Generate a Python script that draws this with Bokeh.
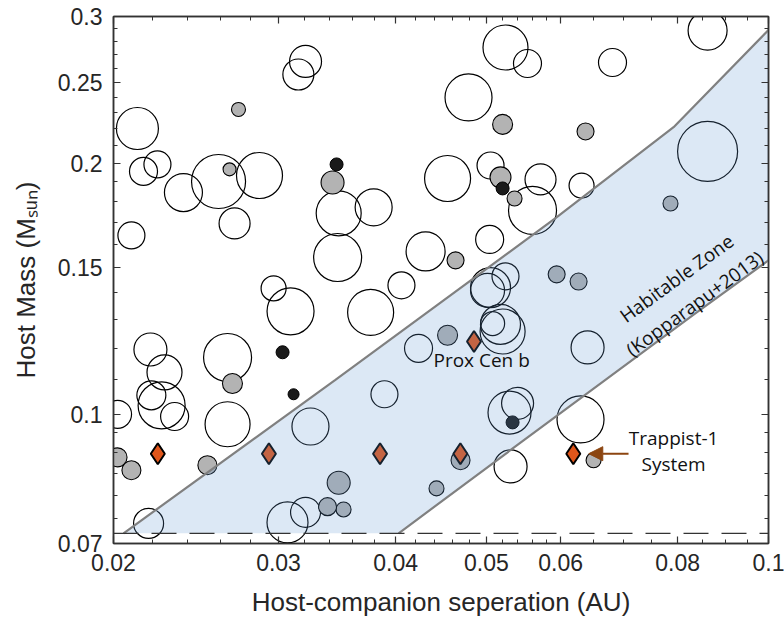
import math
from bokeh.plotting import figure
from bokeh.models import Range1d, FixedTicker, LogAxis, Label, Span, Arrow, NormalHead
from bokeh.embed import file_html
from bokeh.resources import INLINE

# ---------------- data ----------------
# open circles: host-companion separation (AU), host mass (Msun), marker size (px)
open_sep = [0.03206, 0.0315, 0.02121, 0.02228, 0.02153, 0.02375, 0.02589, 0.02863, 0.02693, 0.02090,
            0.03478, 0.03469, 0.0379, 0.02964, 0.0309, 0.0524, 0.05531, 0.04785, 0.05051, 0.04545,
            0.05711, 0.0560, 0.0504, 0.04306, 0.04058, 0.03762, 0.0861, 0.06816, 0.0861, 0.06317,
            0.0219, 0.02267, 0.02195, 0.02251, 0.02324, 0.0202, 0.02647, 0.02647, 0.03245, 0.0218,
            0.03067, 0.03206, 0.04232, 0.03892, 0.05292, 0.05398, 0.05306, 0.06411, 0.06301, 0.05051,
            0.05014, 0.0524, 0.05077, 0.05176, 0.05203]
open_mass = [0.2650, 0.2556, 0.2202, 0.1994, 0.1956, 0.1845, 0.1902, 0.1934, 0.1694, 0.1639,
             0.1742, 0.1542, 0.1771, 0.1416, 0.1329, 0.2754, 0.2635, 0.2399, 0.1988, 0.1918,
             0.1913, 0.1756, 0.1621, 0.1568, 0.1428, 0.1325, 0.2886, 0.2642, 0.2067, 0.1881,
             0.1196, 0.1123, 0.1054, 0.1025, 0.0994, 0.1000, 0.1170, 0.0973, 0.0967, 0.0740,
             0.0742, 0.0763, 0.1200, 0.1057, 0.1005, 0.1031, 0.0866, 0.1203, 0.0986, 0.1419,
             0.1408, 0.1464, 0.1285, 0.1282, 0.1257]
open_size = [32, 31, 42, 27, 28, 38, 54, 46, 31, 27,
             45, 48, 37, 25, 47, 45, 28, 47, 27, 46,
             31, 48, 28, 39, 27, 46, 39, 28, 60, 25,
             33, 35, 29, 47, 28, 28, 48, 45, 37, 30,
             41, 30, 28, 27, 43, 32, 33, 33, 47, 40,
             34, 27, 24, 40, 45]

# grey filled circles
gray_sep = [0.02719, 0.0266, 0.03426, 0.05203, 0.05176, 0.05358, 0.04635, 0.06379, 0.02679, 0.0202,
            0.0209, 0.02519, 0.06506, 0.0786, 0.05942, 0.06271, 0.04545, 0.04692, 0.04423, 0.03478,
            0.0352, 0.03384]
gray_mass = [0.2321, 0.1967, 0.1897, 0.2227, 0.1924, 0.1815, 0.1530, 0.2184, 0.1089, 0.0888,
             0.0857, 0.0869, 0.0881, 0.1790, 0.1472, 0.1443, 0.1244, 0.0881, 0.0815, 0.0828,
             0.0769, 0.0775]
gray_size = [14, 13, 23, 20, 21, 15, 17, 17, 20, 19,
             19, 19, 15, 15, 17, 17, 20, 19, 15, 23,
             15, 18]

# black filled circles
black_sep = [0.0346, 0.05203, 0.0303, 0.03113, 0.05332]
black_mass = [0.1994, 0.1866, 0.1187, 0.1057, 0.0978]
black_size = [13, 13, 13, 11, 13]

# planets (diamonds): Trappist-1 d, e, f, g, h and Proxima Cen b
planet_sep = [0.0223, 0.0293, 0.0385, 0.0469, 0.0619, 0.0485]
planet_mass = [0.0897, 0.0897, 0.0897, 0.0897, 0.0897, 0.1223]

# habitable zone edges (Kopparapu+2013)
hz_inner_sep = [0.0205, 0.0345, 0.0593, 0.0792, 0.1]
hz_inner_mass = [0.072, 0.110, 0.172, 0.221, 0.289]
hz_outer_sep = [0.0403, 0.0585, 0.0832, 0.1]
hz_outer_mass = [0.072, 0.0983, 0.1317, 0.153]

mass_limit = 0.072

x_major = [0.02, 0.03, 0.04, 0.05, 0.06, 0.08, 0.1]
x_labels = ["0.02", "0.03", "0.04", "0.05", "0.06", "0.08", "0.1"]
x_minor = [0.022, 0.024, 0.026, 0.028, 0.032, 0.034, 0.036, 0.038, 0.042, 0.044, 0.046, 0.048,
           0.052, 0.054, 0.056, 0.058, 0.065, 0.07, 0.075, 0.085, 0.09, 0.095]
y_major = [0.07, 0.1, 0.15, 0.2, 0.25, 0.3]
y_labels = ["0.07", "0.1", "0.15", "0.2", "0.25", "0.3"]
y_minor = [0.075, 0.08, 0.085, 0.09, 0.095, 0.11, 0.12, 0.13, 0.14, 0.16, 0.17, 0.18, 0.19,
           0.21, 0.22, 0.23, 0.24, 0.26, 0.27, 0.28, 0.29]

x_title = "Host-companion seperation (AU)"
y_title = "Host Mass (M\u209b\u1d64\u2099)"

# annotation anchors (data units)
prox_label = (0.0439, 0.1163)
trap_label1 = (0.0792, 0.0938)
trap_label2 = (0.0792, 0.0871)
arrow_from = (0.0709, 0.0897)
arrow_to = (0.0643, 0.0897)
hz_label1 = (0.0798, 0.1456)
hz_label2 = (0.0834, 0.1358)

# ---------------- figure ----------------
p = figure(width=784, height=620, x_axis_type="log", y_axis_type="log",
           x_range=Range1d(0.02, 0.1), y_range=Range1d(0.07, 0.3),
           output_backend="svg", toolbar_location=None,
           min_border_left=113, min_border_right=16, min_border_top=16, min_border_bottom=77)
p.grid.visible = False
p.outline_line_color = "#333333"
p.outline_line_width = 1.5
p.background_fill_color = "white"
p.border_fill_color = "white"

AX = "#333333"
TXT = "#262626"


def style_axis(ax, ticks, minor, labels, show_labels):
    ax.ticker = FixedTicker(ticks=ticks, minor_ticks=minor)
    ax.axis_line_color = AX
    ax.axis_line_width = 1.5
    ax.major_tick_line_color = AX
    ax.minor_tick_line_color = AX
    ax.major_tick_line_width = 1.2
    ax.minor_tick_line_width = 1
    ax.major_tick_in = 7
    ax.major_tick_out = 0
    ax.minor_tick_in = 4
    ax.minor_tick_out = 0
    ax.major_label_text_font = "Liberation Sans"
    ax.major_label_text_color = TXT
    if show_labels:
        ax.major_label_overrides = {t: l for t, l in zip(ticks, labels)}
        ax.major_label_text_font_size = "23px"
    else:
        ax.major_label_overrides = {t: "" for t in ticks}
        ax.major_label_text_font_size = "10px"
        ax.major_label_standoff = 0


style_axis(p.xaxis[0], x_major, x_minor, x_labels, True)
style_axis(p.yaxis[0], y_major, y_minor, y_labels, True)
p.xaxis[0].major_label_standoff = 10
p.yaxis[0].major_label_standoff = 11

for ax, title, standoff in ((p.xaxis[0], x_title, 13), (p.yaxis[0], y_title, 14)):
    ax.axis_label = title
    ax.axis_label_text_font = "Liberation Sans"
    ax.axis_label_text_font_size = "26px"
    ax.axis_label_text_font_style = "normal"
    ax.axis_label_text_color = TXT
    ax.axis_label_standoff = standoff

top_ax = LogAxis()
style_axis(top_ax, x_major, x_minor, x_labels, False)
p.add_layout(top_ax, "above")
right_ax = LogAxis()
style_axis(right_ax, y_major, y_minor, y_labels, False)
p.add_layout(right_ax, "right")

# ---------------- marks ----------------
p.scatter(open_sep, open_mass, size=open_size, marker="circle",
          fill_color=None, line_color="black", line_width=1.2)
p.scatter(gray_sep, gray_mass, size=gray_size, marker="circle",
          fill_color="#b3b3b3", line_color="black", line_width=1.1)
p.scatter(black_sep, black_mass, size=black_size, marker="circle",
          fill_color="#1a1a1a", line_color="black", line_width=1)
p.scatter(planet_sep, planet_mass, size=21, marker="diamond",
          fill_color="#e0561b", line_color="black", line_width=2)

# habitable zone (semi-transparent overlay)
hz_x = hz_inner_sep + hz_outer_sep[::-1]
hz_y = hz_inner_mass + hz_outer_mass[::-1]
p.patch(hz_x, hz_y, fill_color=(95, 150, 210), fill_alpha=0.22, line_color=None)
p.line(hz_inner_sep, hz_inner_mass, line_color="#808080", line_width=2.2)
p.line(hz_outer_sep, hz_outer_mass, line_color="#808080", line_width=2.2)

p.add_layout(Span(location=mass_limit, dimension="width", line_color="#333333",
                  line_width=1.3, line_dash="25 13"))

# ---------------- annotations ----------------
ann_font = "Open Sans"
p.add_layout(Label(x=prox_label[0], y=prox_label[1], text="Prox Cen b", text_font=ann_font,
                   text_font_size="19px", text_color="#111111",
                   text_align="left", text_baseline="middle"))
p.add_layout(Label(x=trap_label1[0], y=trap_label1[1], text="Trappist-1", text_font=ann_font,
                   text_font_size="19px", text_color="#111111",
                   text_align="center", text_baseline="middle"))
p.add_layout(Label(x=trap_label2[0], y=trap_label2[1], text="System", text_font=ann_font,
                   text_font_size="19px", text_color="#111111",
                   text_align="center", text_baseline="middle"))
p.add_layout(Arrow(end=NormalHead(size=14, fill_color="#8c4510", line_color="#8c4510"),
                   x_start=arrow_from[0], y_start=arrow_from[1],
                   x_end=arrow_to[0], y_end=arrow_to[1],
                   line_color="#8c4510", line_width=2))
ang = math.radians(36)
p.add_layout(Label(x=hz_label1[0], y=hz_label1[1], text="Habitable Zone", text_font=ann_font,
                   text_font_size="19px", text_color="#111111", angle=ang,
                   text_align="center", text_baseline="middle"))
p.add_layout(Label(x=hz_label2[0], y=hz_label2[1], text="(Kopparapu+2013)", text_font=ann_font,
                   text_font_size="19px", text_color="#111111", angle=ang,
                   text_align="center", text_baseline="middle"))

open("out.html", "w").write(file_html(p, INLINE))
